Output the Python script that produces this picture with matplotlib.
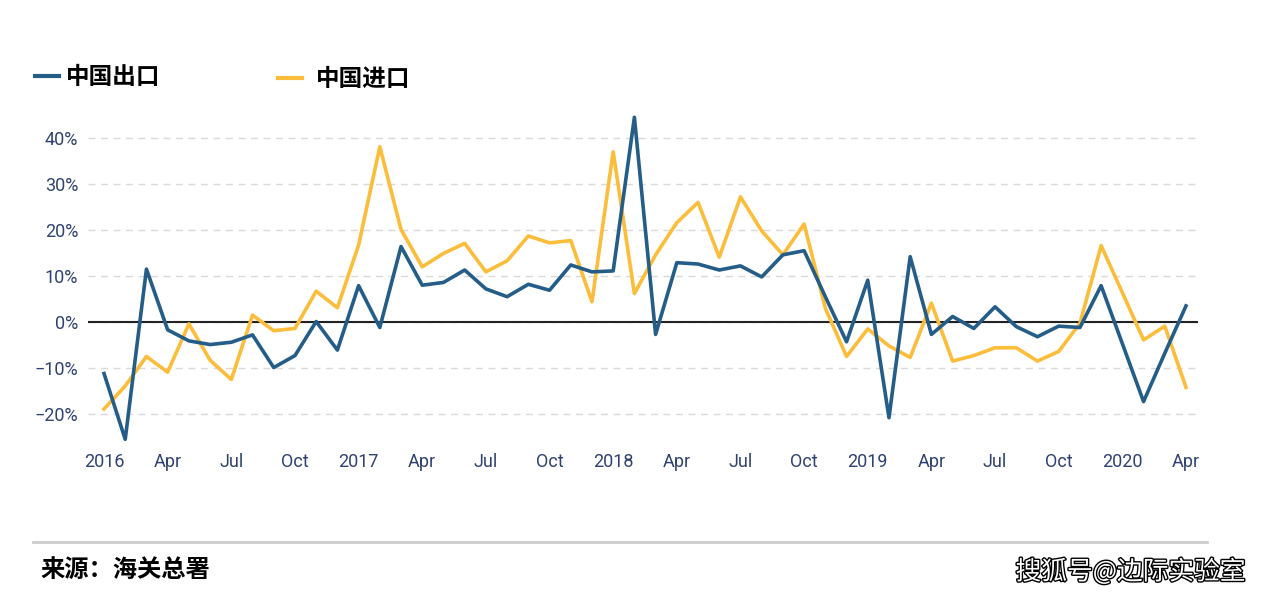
import matplotlib
matplotlib.use("Agg")
import matplotlib.pyplot as plt
import matplotlib.patheffects as pe
from matplotlib.lines import Line2D
from matplotlib.ticker import FuncFormatter

# monthly year-on-year growth, Jan 2016 - Apr 2020 (%)
exports = [
    -11.2, -25.5, 11.5, -1.7, -4.1, -4.9, -4.4, -2.8, -9.9, -7.3, 0.1, -6.1,
    7.9, -1.2, 16.4, 8.0, 8.6, 11.3, 7.2, 5.5, 8.2, 6.9, 12.4, 10.9,
    11.1, 44.5, -2.7, 12.9, 12.6, 11.3, 12.2, 9.8, 14.6, 15.5, 5.5, -4.3,
    9.1, -20.8, 14.2, -2.7, 1.2, -1.4, 3.3, -1.0, -3.2, -0.9, -1.2, 7.9,
    -4.7, -17.3, -6.8, 3.5,
]
imports = [
    -18.9, -13.9, -7.5, -10.9, -0.4, -8.3, -12.5, 1.5, -1.9, -1.4, 6.7, 3.1,
    16.7, 38.1, 20.1, 12.0, 14.9, 17.1, 10.9, 13.3, 18.7, 17.2, 17.7, 4.4,
    37.0, 6.2, 14.6, 21.6, 26.0, 14.1, 27.2, 19.8, 14.6, 21.3, 3.0, -7.5,
    -1.5, -5.2, -7.7, 4.1, -8.5, -7.3, -5.6, -5.6, -8.5, -6.4, -0.3, 16.6,
    6.4, -3.9, -0.9, -14.2,
]
month_names = ["Apr", "Jul", "Oct"]
years = ["2016", "2017", "2018", "2019", "2020"]

tick_pos = list(range(0, len(exports), 3))
tick_labels = []
for p in tick_pos:
    if p % 12 == 0:
        tick_labels.append(years[p // 12])
    else:
        tick_labels.append(month_names[(p % 12) // 3 - 1])

blue = "#245d87"
yellow = "#fbbd3a"
label_col = "#2f4270"
cjk = ["Noto Sans CJK SC", "DejaVu Sans"]
W, H = 1276, 599

fig = plt.figure(figsize=(12.76, 5.99), dpi=100)
ax = fig.add_axes([88 / W, 1 - 446.2 / H, (1198 - 88) / W, (446.2 - 105.8) / H])

x = list(range(len(exports)))
ax.plot(x, exports, color=blue, linewidth=2.6, zorder=3)
ax.plot(x, imports, color=yellow, linewidth=2.6, zorder=2)
ax.axhline(0, color="#222222", linewidth=1.5, zorder=1)

ax.set_xlim(-16 / 21.2, 51 + 12 / 21.2)
ax.set_ylim(-27, 47)
ax.set_yticks([-20, -10, 0, 10, 20, 30, 40])
ax.yaxis.set_major_formatter(FuncFormatter(lambda v, _: f"{v:.0f}%".replace("-", "\u2212")))
ax.set_xticks(tick_pos)
ax.set_xticklabels(tick_labels)
ax.grid(axis="y", color="#d9d9d9", linestyle=(0, (5, 4)), linewidth=1)
ax.set_axisbelow(True)
for s in ax.spines.values():
    s.set_visible(False)
ax.tick_params(length=0, labelsize=13, labelcolor=label_col)
ax.tick_params(axis="x", pad=5)
ax.tick_params(axis="y", pad=7)
for t in ax.get_xticklabels() + ax.get_yticklabels():
    t.set_family("Roboto")

leg_prop = {"family": cjk, "weight": "bold", "size": 17}
leg1 = fig.legend(
    handles=[Line2D([], [], color=blue, linewidth=3)], labels=["中国出口"],
    loc="center left", bbox_to_anchor=(35 / W, 1 - 77 / H),
    frameon=False, handlelength=1.0, handletextpad=0.32,
    borderpad=0, borderaxespad=0, prop=leg_prop,
)
leg2 = fig.legend(
    handles=[Line2D([], [], color=yellow, linewidth=3)], labels=["中国进口"],
    loc="center left", bbox_to_anchor=(278 / W, 1 - 79 / H),
    frameon=False, handlelength=1.0, handletextpad=0.6,
    borderpad=0, borderaxespad=0, prop=leg_prop,
)

fig.add_artist(Line2D([33 / W, 1207 / W], [1 - 542 / H] * 2,
                      color="#cccccc", linewidth=2, transform=fig.transFigure))
fig.text(40 / W, 1 - 570 / H, "来源：海关总署", family=cjk, weight="bold",
         fontsize=17.5, color="black", va="center", ha="left")
fig.text(1246 / W, 1 - 572 / H, "搜狐号@边际实验室", family=cjk,
         fontsize=18.5, color="white", va="center", ha="right",
         path_effects=[pe.withStroke(linewidth=2, foreground="black")])

fig.savefig("out.png", dpi=100)
